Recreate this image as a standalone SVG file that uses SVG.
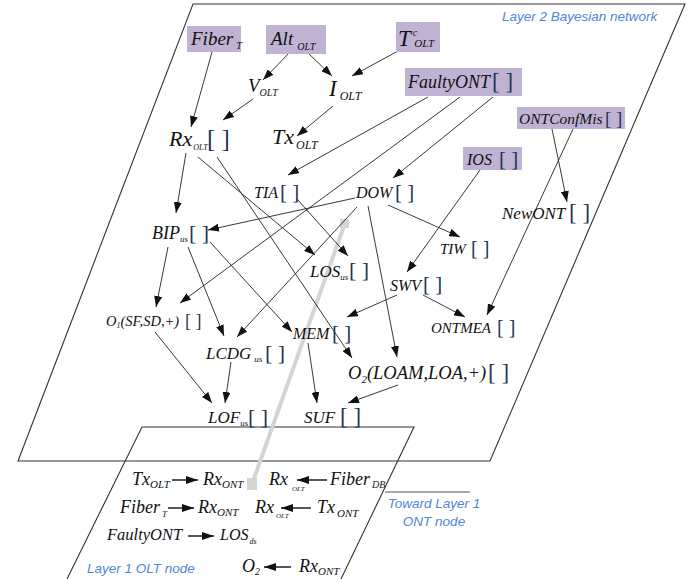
<svg xmlns="http://www.w3.org/2000/svg" width="699" height="579" viewBox="0 0 699 579">
<style>
.frame{fill:none;stroke:#333;stroke-width:1.1}
.e{fill:none;stroke:#222;stroke-width:0.9;marker-end:url(#ah)}
.e2{fill:none;stroke:#111;stroke-width:1.4;marker-end:url(#ah2)}
.hl{fill:#bfb2d3}
.n{font-family:"Liberation Serif","Times New Roman",serif;font-style:italic;fill:#111}
.b{font-family:"Liberation Serif","Times New Roman",serif;fill:#1f3552}
.sub{font-size:10px}
.lbl{font-family:"Liberation Sans",Arial,sans-serif;font-style:italic;font-size:13.5px;fill:#4f86d9}
</style>
<defs>
<marker id="ah" markerWidth="11" markerHeight="8" refX="11" refY="4" orient="auto" markerUnits="userSpaceOnUse"><path d="M0,0 L11,4 L0,8 z" fill="#111"/></marker>
<marker id="ah2" markerWidth="12" markerHeight="8" refX="12" refY="4" orient="auto" markerUnits="userSpaceOnUse"><path d="M0,0 L12,4 L0,8 z" fill="#111"/></marker>
</defs>

<g id="layers">
<polygon class="frame" points="193,4 685,4 490,461 18,461"/>
<polyline class="frame" points="67,579 142,427 414,427 341,579"/>
<line x1="385" y1="492" x2="470" y2="492" stroke="#555" stroke-width="1.1"/>
<text class="lbl" x="502" y="21">Layer 2 Bayesian network</text>
<text class="lbl" x="87" y="573">Layer 1 OLT node</text>
<text class="lbl" x="434" y="508" text-anchor="middle">Toward Layer 1</text>
<text class="lbl" x="434" y="526" text-anchor="middle">ONT node</text>
</g>

<g id="link">
<line x1="252" y1="484" x2="344" y2="226" stroke="#d4d4d4" stroke-width="4"/>
<rect x="247" y="478" width="10" height="12" fill="#d4d4d4"/>
<rect x="340" y="219" width="9" height="9" fill="#d4d4d4"/>
</g>

<g id="connectors">
<line class="e" x1="212" y1="52" x2="191" y2="127"/>
<line class="e" x1="290" y1="52" x2="263" y2="80"/>
<line class="e" x1="307" y1="52" x2="332" y2="76"/>
<line class="e" x1="398" y1="51" x2="352" y2="76"/>
<line class="e" x1="253" y1="99" x2="223" y2="120"/>
<line class="e" x1="333" y1="106" x2="297" y2="136"/>
<line class="e" x1="428" y1="97" x2="288" y2="175"/>
<line class="e" x1="460" y1="97" x2="180" y2="303"/>
<line class="e" x1="493" y1="97" x2="393" y2="178"/>
<line class="e" x1="480" y1="170" x2="407" y2="272"/>
<line class="e" x1="552" y1="129" x2="567" y2="202"/>
<line class="e" x1="573" y1="129" x2="487" y2="315"/>
<line class="e" x1="186" y1="153" x2="176" y2="213"/>
<line class="e" x1="198" y1="157" x2="315" y2="255"/>
<line class="e" x1="217" y1="157" x2="352" y2="358"/>
<line class="e" x1="297" y1="199" x2="348" y2="256"/>
<line class="e" x1="355" y1="198" x2="208" y2="230"/>
<line class="e" x1="357" y1="207" x2="237" y2="337"/>
<line class="e" x1="368" y1="206" x2="397" y2="357"/>
<line class="e" x1="388" y1="205" x2="460" y2="237"/>
<line class="e" x1="168" y1="247" x2="156" y2="307"/>
<line class="e" x1="188" y1="247" x2="224" y2="336"/>
<line class="e" x1="210" y1="242" x2="292" y2="332"/>
<line class="e" x1="397" y1="295" x2="347" y2="317"/>
<line class="e" x1="423" y1="295" x2="465" y2="317"/>
<line class="e" x1="155" y1="332" x2="212" y2="403"/>
<line class="e" x1="231" y1="362" x2="225" y2="403"/>
<line class="e" x1="308" y1="343" x2="317" y2="403"/>
<line class="e" x1="398" y1="385" x2="348" y2="403"/>
<line class="e2" x1="172" y1="480" x2="198" y2="480"/>
<line class="e2" x1="327" y1="480" x2="297" y2="480"/>
<line class="e2" x1="168" y1="508" x2="194" y2="508"/>
<line class="e2" x1="311" y1="508" x2="281" y2="508"/>
<line class="e2" x1="188" y1="536" x2="214" y2="536"/>
<line class="e2" x1="291" y1="567" x2="264" y2="567"/>
</g>

<g id="FiberT"><rect class="hl" x="187" y="26" width="54" height="26"/><text class="n" x="191" y="45" font-size="19">Fiber<tspan class="sub" dx="3" dy="4">T</tspan></text></g>
<g id="AltOLT"><rect class="hl" x="266" y="25" width="60" height="29"/><text class="n" x="271" y="45" font-size="19">Alt<tspan class="sub" dx="4" dy="5" font-size="11">OLT</tspan></text></g>
<g id="TcOLT"><rect class="hl" x="396" y="22" width="44" height="30"/><text class="n" x="398" y="46" font-size="23">T<tspan font-size="10" dx="2" dy="-10">c</tspan><tspan font-size="11" dx="-3" dy="11">OLT</tspan></text></g>
<g id="FaultyONT"><rect class="hl" x="405" y="68" width="117" height="28"/><text class="n" x="408" y="88" font-size="18">FaultyONT</text><text class="b" x="492" y="89" font-size="23">[ ]</text></g>
<g id="ONTConfMis"><rect class="hl" x="517" y="107" width="108" height="22"/><text class="n" x="519" y="124" font-size="15.5">ONTConfMis</text><text class="b" x="605" y="125" font-size="19">[ ]</text></g>
<g id="IOS"><rect class="hl" x="463" y="147" width="59" height="23"/><text class="n" x="467" y="165" font-size="16">IOS</text><text class="b" x="499" y="166" font-size="21">[ ]</text></g>

<g id="VOLT"><text class="n" x="248" y="92" font-size="19">V<tspan font-size="10" dy="4">OLT</tspan></text></g>
<g id="IOLT"><text class="n" x="329" y="96" font-size="23">I<tspan font-size="12" dx="3" dy="4">OLT</tspan></text></g>
<g id="RxOLT"><text class="n" x="169" y="146" font-size="22">Rx<tspan font-size="8" dx="1" dy="4">OLT</tspan></text><text class="b" x="207" y="147" font-size="25">[ ]</text></g>
<g id="TxOLT"><text class="n" x="272" y="144" font-size="22">Tx<tspan font-size="12" dx="2" dy="5">OLT</tspan></text></g>
<g id="TIA"><text class="n" x="254" y="198" font-size="16">TIA</text><text class="b" x="280" y="199" font-size="21">[ ]</text></g>
<g id="DOW"><text class="n" x="356" y="198" font-size="16">DOW</text><text class="b" x="395" y="199" font-size="21">[ ]</text></g>
<g id="BIPus"><text class="n" x="152" y="239" font-size="18">BIP<tspan font-size="9" dy="3">us</tspan></text><text class="b" x="189" y="240" font-size="22">[ ]</text></g>
<g id="LOSus"><text class="n" x="310" y="277" font-size="17">LOS<tspan font-size="9" dy="3">us</tspan></text><text class="b" x="349" y="277" font-size="22">[ ]</text></g>
<g id="TIW"><text class="n" x="440" y="254" font-size="15">TIW</text><text class="b" x="471" y="255" font-size="20">[ ]</text></g>
<g id="NewONT"><text class="n" x="502" y="219" font-size="17">NewONT</text><text class="b" x="569" y="220" font-size="23">[ ]</text></g>
<g id="SWV"><text class="n" x="390" y="291" font-size="16">SWV</text><text class="b" x="423" y="291" font-size="21">[ ]</text></g>
<g id="ONTMEA"><text class="n" x="431" y="333" font-size="15">ONTMEA</text><text class="b" x="497" y="334" font-size="20">[ ]</text></g>
<g id="O1"><text class="n" x="106" y="326" font-size="14.5">O<tspan font-size="8" dy="2">1</tspan><tspan dy="-2">(SF,SD,+)</tspan></text><text class="b" x="185" y="327" font-size="18">[ ]</text></g>
<g id="LCDGus"><text class="n" x="206" y="359" font-size="17">LCDG<tspan font-size="9" dx="3" dy="3">us</tspan></text><text class="b" x="265" y="360" font-size="22">[ ]</text></g>
<g id="MEM"><text class="n" x="293" y="339" font-size="16">MEM</text><text class="b" x="332" y="340" font-size="21">[ ]</text></g>
<g id="O2"><text class="n" x="348" y="379" font-size="18.5">O<tspan font-size="11" dy="4">2</tspan><tspan dy="-4">(LOAM,LOA,+)</tspan></text><text class="b" x="488" y="380" font-size="23">[ ]</text></g>
<g id="LOFus"><text class="n" x="208" y="423" font-size="17">LOF<tspan font-size="9" dy="3">us</tspan></text><text class="b" x="248" y="424" font-size="22">[ ]</text></g>
<g id="SUF"><text class="n" x="304" y="423" font-size="17">SUF</text><text class="b" x="340" y="424" font-size="23">[ ]</text></g>

<g id="L1">
<text class="n" x="132" y="485" font-size="18">Tx<tspan font-size="11" dy="3">OLT</tspan></text>
<text class="n" x="203" y="485" font-size="18">Rx<tspan font-size="11" dy="3">ONT</tspan></text>
<text class="n" x="269" y="485" font-size="18">Rx<tspan font-size="7" dx="4" dy="6">OLT</tspan></text>
<text class="n" x="330" y="485" font-size="18">Fiber<tspan font-size="10" dx="2" dy="3">DB</tspan></text>
<text class="n" x="120" y="513" font-size="18">Fiber<tspan font-size="9" dx="2" dy="4">T</tspan></text>
<text class="n" x="198" y="513" font-size="18">Rx<tspan font-size="11" dy="3">ONT</tspan></text>
<text class="n" x="255" y="513" font-size="18">Rx<tspan font-size="7" dx="2" dy="5">OLT</tspan></text>
<text class="n" x="317" y="513" font-size="18">Tx<tspan font-size="11" dx="2" dy="4">ONT</tspan></text>
<text class="n" x="107" y="540" font-size="16.5">FaultyONT</text>
<text class="n" x="220" y="540" font-size="16">LOS<tspan font-size="8" dx="1" dy="4">ds</tspan></text>
<text class="n" x="242" y="572" font-size="18">O<tspan font-size="10" dy="3">2</tspan></text>
<text class="n" x="299" y="572" font-size="18">Rx<tspan font-size="11" dy="3">ONT</tspan></text>
</g>
</svg>
